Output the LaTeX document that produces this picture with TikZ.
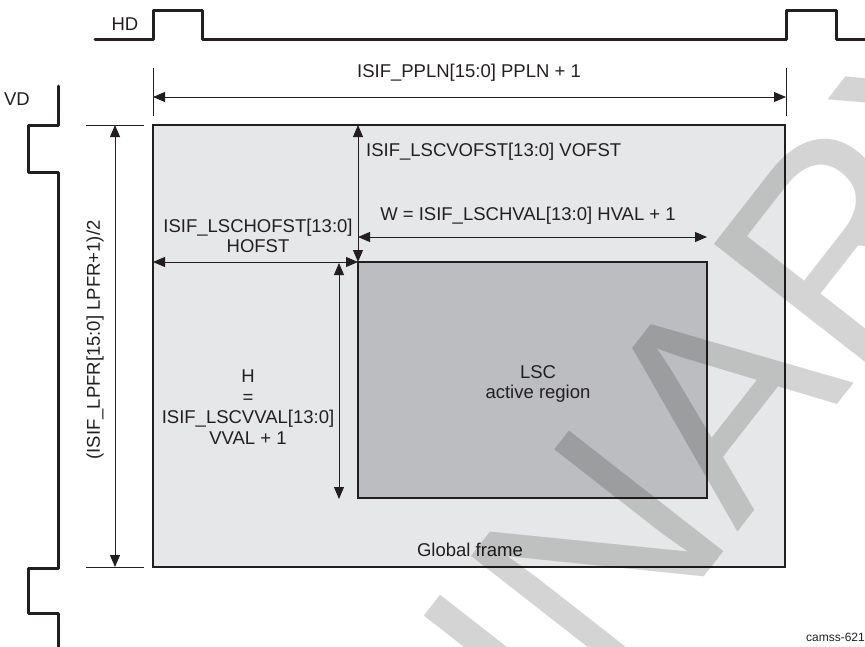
\documentclass[tikz,border=0pt]{standalone}
\usepackage{fontspec}
\setmainfont{Liberation Sans}
\usetikzlibrary{arrows.meta}
\definecolor{ink}{HTML}{231F20}
\definecolor{framefill}{HTML}{E6E7E8}
\definecolor{lscfill}{HTML}{BCBDC0}
\begin{document}
\begin{tikzpicture}[x=1pt,y=-1pt,
  lbl/.style={font=\fontsize{18.5}{20.5}\selectfont, text=ink, inner sep=0pt, align=center},
  wave/.style={draw=ink, line width=3pt, line join=round, line cap=round},
  dimline/.style={draw=ink, line width=0.9pt, {Triangle[length=12pt,width=10pt]}-{Triangle[length=12pt,width=10pt]}},
  extline/.style={draw=ink, line width=0.8pt},
  boxframe/.style={draw=ink, line width=2.4pt, fill=framefill},
  boxlsc/.style={draw=ink, line width=2pt, fill=lscfill}]
\useasboundingbox (0,0) rectangle (865,646);
% frames
\coordinate (gfA) at (153,125);
\coordinate (gfB) at (785,567);
\coordinate (lsA) at (358,262);
\coordinate (lsB) at (707,498);
\draw[boxframe] (gfA) rectangle (gfB);
\draw[boxlsc] (lsA) rectangle (lsB);
% HD waveform
\coordinate (h0) at (95,39);
\coordinate (h1) at (153,39);
\coordinate (h2) at (153,10);
\coordinate (h3) at (202,10);
\coordinate (h4) at (202,39);
\coordinate (h5) at (786,39);
\coordinate (h6) at (786,10);
\coordinate (h7) at (836,10);
\coordinate (h8) at (836,39);
\coordinate (h9) at (868,39);
\draw[wave] (h0) -- (h1) -- (h2) -- (h3) -- (h4) -- (h5) -- (h6) -- (h7) -- (h8) -- (h9);
% VD waveform
\coordinate (v0) at (58,86);
\coordinate (v1) at (58,125);
\coordinate (v2) at (28,125);
\coordinate (v3) at (28,172);
\coordinate (v4) at (58,172);
\coordinate (v5) at (58,568);
\coordinate (v6) at (28,568);
\coordinate (v7) at (28,613);
\coordinate (v8) at (58,613);
\coordinate (v9) at (58,650);
\draw[wave] (v0) -- (v1) -- (v2) -- (v3) -- (v4) -- (v5) -- (v6) -- (v7) -- (v8) -- (v9);
\node[lbl] (hd) at (125,24) {HD};
\node[lbl] (vd) at (17,99) {VD};
% PPLN
\coordinate (pe1a) at (153,68); \coordinate (pe1b) at (153,116);
\coordinate (pe2a) at (786,68); \coordinate (pe2b) at (786,116);
\draw[extline] (pe1a) -- (pe1b);
\draw[extline] (pe2a) -- (pe2b);
\coordinate (pL) at (153,97); \coordinate (pR) at (786,97);
\draw[dimline] (pL) -- (pR);
\node[lbl] (ppln) at (469,73) {ISIF\_PPLN[15:0] PPLN + 1};
% LPFR
\coordinate (le1a) at (86,125); \coordinate (le1b) at (144,125);
\coordinate (le2a) at (86,567); \coordinate (le2b) at (144,567);
\draw[extline] (le1a) -- (le1b);
\draw[extline] (le2a) -- (le2b);
\coordinate (lT) at (115,125); \coordinate (lB) at (115,567);
\draw[dimline] (lT) -- (lB);
\node[lbl, rotate=90] (lpfr) at (95,340) {(ISIF\_LPFR[15:0] LPFR+1)/2};
% VOFST
\coordinate (voT) at (358,125); \coordinate (voB) at (358,262);
\draw[dimline] (voT) -- (voB);
\node[lbl, anchor=west] (vofst) at (366,152) {ISIF\_LSCVOFST[13:0] VOFST};
% HVAL
\coordinate (hvL) at (358,237); \coordinate (hvR) at (707,237);
\draw[dimline] (hvL) -- (hvR);
\node[lbl] (hval) at (528,216) {W = ISIF\_LSCHVAL[13:0] HVAL + 1};
% HOFST
\coordinate (hoL) at (153,262); \coordinate (hoR) at (358,262);
\draw[dimline] (hoL) -- (hoR);
\node[lbl] (hofst) at (258,236) {ISIF\_LSCHOFST[13:0]\\HOFST};
% VVAL
\coordinate (vvT) at (339,263); \coordinate (vvB) at (339,499);
\draw[dimline] (vvT) -- (vvB);
\node[lbl] (vval) at (248,407) {H\\=\\ISIF\_LSCVVAL[13:0]\\VVAL + 1};
% texts
\node[lbl] (lsc) at (538,384) {LSC\\active region};
\node[lbl] (gf) at (470,550) {Global frame};
\node[lbl, font=\fontsize{12}{14}\selectfont, anchor=east] (tag) at (865,637) {camss-621};
% watermark
\begin{scope}
\clip (0,0) rectangle (865,646);
\node[rotate=52, font=\fontsize{285}{285}\selectfont, text=black, text opacity=0.17, inner sep=0pt] (wm) at (425,774) {PRELIMINARY};
\end{scope}
\end{tikzpicture}
\end{document}
